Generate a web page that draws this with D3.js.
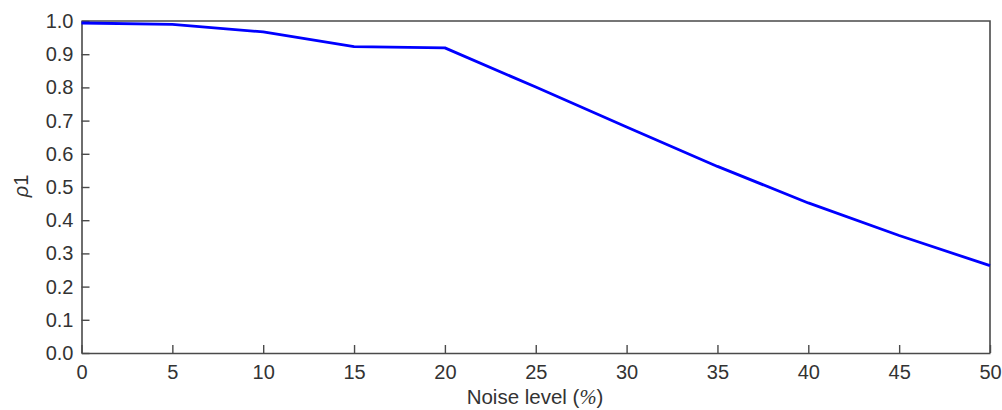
<!DOCTYPE html>
<html>
<head>
<meta charset="utf-8">
<script src="https://cdn.jsdelivr.net/npm/d3@7"></script>
<style>
  body { margin: 0; background: #fff; }
  svg text { font-family: "Liberation Sans", Arial, sans-serif; fill: #333; }
</style>
</head>
<body>
<div id="chart"></div>
<script>
// data
var noiseLevels = [0, 5, 10, 15, 20, 25, 30, 35, 40, 45, 50];
var rhoValues = [0.994, 0.990, 0.967, 0.923, 0.919, 0.801, 0.681, 0.562, 0.452, 0.354, 0.263];
var xTicks = [0, 5, 10, 15, 20, 25, 30, 35, 40, 45, 50];
var yTicks = [0, 0.1, 0.2, 0.3, 0.4, 0.5, 0.6, 0.7, 0.8, 0.9, 1.0];

var W = 1002, H = 410,
  m = [21, 12, 57, 81.5], // top right bottom left
  w = 990 - m[3],
  h = 353 - m[0];

var x = d3.scaleLinear().domain([0, 50]).range([0, w]);
var y = d3.scaleLinear().domain([0, 1]).range([h, 0]);

var svg = d3.select("#chart").append("svg")
  .attr("width", W)
  .attr("height", H);

var g = svg.append("g")
  .attr("transform", "translate(" + m[3] + "," + m[0] + ")");

var axisColor = "#4a4a4a";

// box (top and right edges)
g.append("path")
  .attr("d", "M0,0H" + w + "V" + h)
  .attr("fill", "none")
  .attr("stroke", axisColor)
  .attr("stroke-width", 1.6);

var xAxis = g.append("g")
  .attr("transform", "translate(0," + h + ")")
  .call(d3.axisBottom(x).tickValues(xTicks).tickSizeInner(-8).tickSizeOuter(0).tickPadding(12).tickFormat(d3.format("d")));

var yAxis = g.append("g")
  .call(d3.axisLeft(y).tickValues(yTicks).tickSizeInner(-8).tickSizeOuter(0).tickPadding(8).tickFormat(d3.format(".1f")));

[xAxis, yAxis].forEach(function(a) {
  a.attr("font-family", null).attr("font-size", null);
  a.select(".domain").attr("stroke", axisColor).attr("stroke-width", 1.6);
  a.selectAll(".tick line").attr("stroke", axisColor).attr("stroke-width", 1.4);
  a.selectAll(".tick text").style("font-size", "20px").attr("fill", "#333");
});

var line = d3.line()
  .x(function(d, i) { return x(noiseLevels[i]); })
  .y(function(d) { return y(d); });

g.append("path")
  .datum(rhoValues)
  .attr("d", line)
  .attr("fill", "none")
  .attr("stroke", "#0000ff")
  .attr("stroke-width", 2.8)
  .attr("stroke-linejoin", "round");

// axis labels
var xl = svg.append("text")
  .attr("x", 535)
  .attr("y", 404)
  .attr("text-anchor", "middle")
  .style("font-size", "20.5px");
xl.append("tspan").text("Noise level (");
xl.append("tspan").style("font-family", "'Liberation Serif', serif").style("font-style", "italic").text("%");
xl.append("tspan").text(")");

svg.append("text")
  .attr("transform", "translate(28,186) rotate(-90)")
  .attr("text-anchor", "middle")
  .style("font-size", "20px")
  .html("<tspan font-style='italic'>ρ</tspan>1");
</script>
</body>
</html>
